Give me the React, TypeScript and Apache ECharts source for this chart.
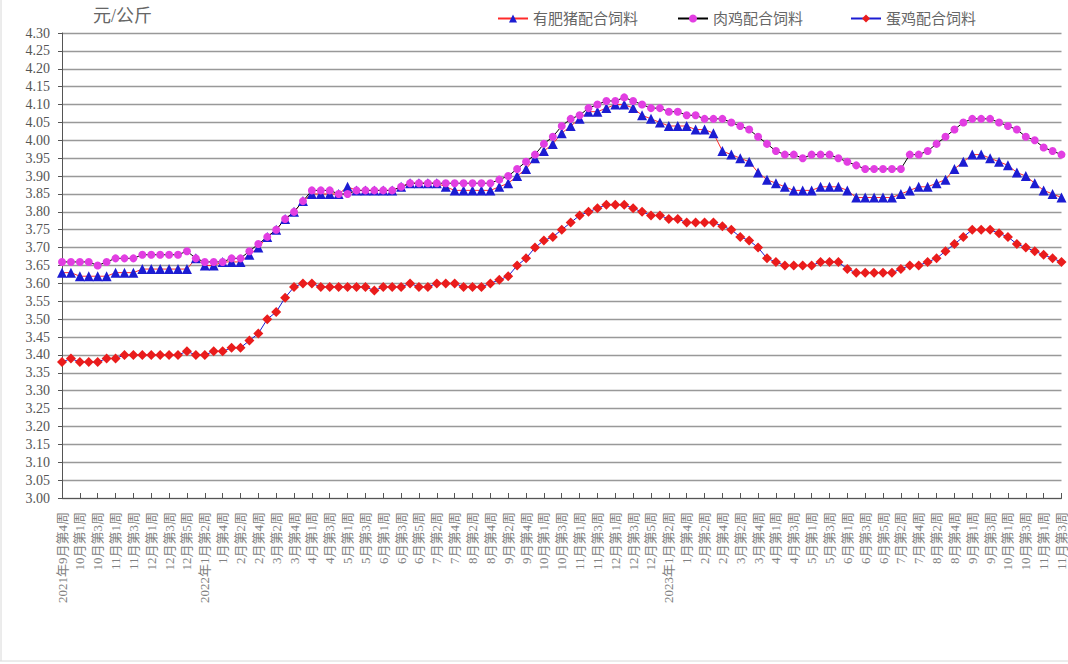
import React, { useEffect, useRef } from "react";
import * as echarts from "echarts";

// [year, month, first week, last week] of the weekly observations
const monthWeeks: [number, number, number, number][] = [
  [2021, 9, 4, 5], [2021, 10, 1, 4], [2021, 11, 1, 4], [2021, 12, 1, 5],
  [2022, 1, 1, 4], [2022, 2, 1, 4], [2022, 3, 1, 5], [2022, 4, 1, 4], [2022, 5, 1, 4], [2022, 6, 1, 5],
  [2022, 7, 1, 4], [2022, 8, 1, 4], [2022, 9, 1, 5], [2022, 10, 1, 4], [2022, 11, 1, 4], [2022, 12, 1, 5],
  [2023, 1, 1, 4], [2023, 2, 1, 4], [2023, 3, 1, 5], [2023, 4, 1, 4], [2023, 5, 1, 4], [2023, 6, 1, 5],
  [2023, 7, 1, 4], [2023, 8, 1, 5], [2023, 9, 1, 4], [2023, 10, 1, 4], [2023, 11, 1, 3],
];

const categories: string[] = [];
const catYears: number[] = [];
const shortLabels: string[] = [];
monthWeeks.forEach(([y, m, a, b]) => {
  for (let w = a; w <= b; w++) {
    categories.push(`${y}年${m}月第${w}周`);
    shortLabels.push(`${m}月第${w}周`);
    catYears.push(y);
  }
});

const pigFeed = [
  3.63, 3.63, 3.62, 3.62, 3.62, 3.62, 3.63, 3.63, 3.63, 3.64,
  3.64, 3.64, 3.64, 3.64, 3.64, 3.67, 3.65, 3.65, 3.66, 3.66,
  3.66, 3.68, 3.70, 3.73, 3.75, 3.78, 3.80, 3.83, 3.85, 3.85,
  3.85, 3.85, 3.87, 3.86, 3.86, 3.86, 3.86, 3.86, 3.87, 3.88,
  3.88, 3.88, 3.88, 3.87, 3.86, 3.86, 3.86, 3.86, 3.86, 3.87,
  3.88, 3.90, 3.92, 3.95, 3.97, 3.99, 4.02, 4.04, 4.06, 4.08,
  4.08, 4.09, 4.10, 4.10, 4.09, 4.07, 4.06, 4.05, 4.04, 4.04,
  4.04, 4.03, 4.03, 4.02, 3.97, 3.96, 3.95, 3.94, 3.91, 3.89,
  3.88, 3.87, 3.86, 3.86, 3.86, 3.87, 3.87, 3.87, 3.86, 3.84,
  3.84, 3.84, 3.84, 3.84, 3.85, 3.86, 3.87, 3.87, 3.88, 3.89,
  3.92, 3.94, 3.96, 3.96, 3.95, 3.94, 3.93, 3.91, 3.90, 3.88,
  3.86, 3.85, 3.84,
];

const broilerFeed = [
  3.66, 3.66, 3.66, 3.66, 3.65, 3.66, 3.67, 3.67, 3.67, 3.68,
  3.68, 3.68, 3.68, 3.68, 3.69, 3.67, 3.66, 3.66, 3.66, 3.67,
  3.67, 3.69, 3.71, 3.73, 3.75, 3.78, 3.80, 3.83, 3.86, 3.86,
  3.86, 3.85, 3.85, 3.86, 3.86, 3.86, 3.86, 3.86, 3.87, 3.88,
  3.88, 3.88, 3.88, 3.88, 3.88, 3.88, 3.88, 3.88, 3.88, 3.89,
  3.90, 3.92, 3.94, 3.96, 3.99, 4.01, 4.04, 4.06, 4.07, 4.09,
  4.10, 4.11, 4.11, 4.12, 4.11, 4.10, 4.09, 4.09, 4.08, 4.08,
  4.07, 4.07, 4.06, 4.06, 4.06, 4.05, 4.04, 4.03, 4.01, 3.99,
  3.97, 3.96, 3.96, 3.95, 3.96, 3.96, 3.96, 3.95, 3.94, 3.93,
  3.92, 3.92, 3.92, 3.92, 3.92, 3.96, 3.96, 3.97, 3.99, 4.01,
  4.03, 4.05, 4.06, 4.06, 4.06, 4.05, 4.04, 4.03, 4.01, 4.00,
  3.98, 3.97, 3.96,
];

const layerFeed = [
  3.38, 3.39, 3.38, 3.38, 3.38, 3.39, 3.39, 3.40, 3.40, 3.40,
  3.40, 3.40, 3.40, 3.40, 3.41, 3.40, 3.40, 3.41, 3.41, 3.42,
  3.42, 3.44, 3.46, 3.50, 3.52, 3.56, 3.59, 3.60, 3.60, 3.59,
  3.59, 3.59, 3.59, 3.59, 3.59, 3.58, 3.59, 3.59, 3.59, 3.60,
  3.59, 3.59, 3.60, 3.60, 3.60, 3.59, 3.59, 3.59, 3.60, 3.61,
  3.62, 3.65, 3.67, 3.70, 3.72, 3.73, 3.75, 3.77, 3.79, 3.80,
  3.81, 3.82, 3.82, 3.82, 3.81, 3.80, 3.79, 3.79, 3.78, 3.78,
  3.77, 3.77, 3.77, 3.77, 3.76, 3.75, 3.73, 3.72, 3.70, 3.67,
  3.66, 3.65, 3.65, 3.65, 3.65, 3.66, 3.66, 3.66, 3.64, 3.63,
  3.63, 3.63, 3.63, 3.63, 3.64, 3.65, 3.65, 3.66, 3.67, 3.69,
  3.71, 3.73, 3.75, 3.75, 3.75, 3.74, 3.73, 3.71, 3.70, 3.69,
  3.68, 3.67, 3.66,
];

const seriesNames = ["有肥猪配合饲料", "肉鸡配合饲料", "蛋鸡配合饲料"];
const unitLabel = "元/公斤";

const FONT = "'Liberation Serif', 'Noto Sans CJK SC', serif";
const legendLefts = [492, 672, 845];

export default function App() {
  const ref = useRef<HTMLDivElement>(null);

  useEffect(() => {
    if (!ref.current) return;
    const chart = echarts.init(ref.current, undefined, { renderer: "svg" });
    const option: any = {
      animation: false,
      backgroundColor: "#ffffff",
      textStyle: { fontFamily: FONT },
      legend: seriesNames.map((name, i) => ({
        top: 6,
        left: legendLefts[i],
        itemWidth: 30,
        itemHeight: 10,
        textStyle: { fontSize: 15, color: "#666", fontFamily: FONT },
        data: [name],
      })),
      grid: { left: 62, right: 2, top: 33, bottom: 166, containLabel: false },
      xAxis: {
        type: "category",
        data: categories,
        boundaryGap: false,
        axisLine: { lineStyle: { color: "#555", width: 1 } },
        axisTick: { inside: true, interval: 1, length: 5, lineStyle: { color: "#555" } },
        axisLabel: {
          interval: 1,
          rotate: 90,
          margin: 14,
          fontSize: 13,
          color: "#808080",
          fontFamily: FONT,
          formatter: (_v: string, i: number) =>
            i === 0 || catYears[i] !== catYears[i - 2] ? categories[i] : shortLabels[i],
        },
        splitLine: { show: false },
      },
      yAxis: {
        type: "value",
        min: 3,
        max: 4.3,
        interval: 0.05,
        axisLine: { show: true, lineStyle: { color: "#555" } },
        axisTick: { show: true, length: 4, lineStyle: { color: "#555" } },
        axisLabel: {
          formatter: (v: number) => v.toFixed(2),
          fontSize: 14,
          color: "#555",
          margin: 12,
          fontFamily: FONT,
        },
        splitLine: { lineStyle: { color: "#999999", width: 1.3 } },
      },
      graphic: [
        {
          type: "text",
          left: 93,
          top: 7,
          style: { text: unitLabel, fontSize: 18, fill: "#666", fontFamily: FONT },
        },
        { type: "line", shape: { x1: 1, y1: 0, x2: 1, y2: 661 }, style: { stroke: "#d8d8d8", lineWidth: 1 } },
        { type: "line", shape: { x1: 0, y1: 661, x2: 1068, y2: 661 }, style: { stroke: "#d8d8d8", lineWidth: 1 } },
      ],
      series: [
        {
          name: seriesNames[0],
          type: "line",
          data: pigFeed,
          symbol: "triangle",
          symbolSize: 10,
          showAllSymbol: true,
          itemStyle: { color: "#1c1cd2" },
          lineStyle: { color: "#ff2a2a", width: 1 },
        },
        {
          name: seriesNames[1],
          type: "line",
          data: broilerFeed,
          symbol: "circle",
          symbolSize: 8,
          showAllSymbol: true,
          itemStyle: { color: "#e23ee2" },
          lineStyle: { color: "#000000", width: 1 },
        },
        {
          name: seriesNames[2],
          type: "line",
          data: layerFeed,
          symbol: "diamond",
          symbolSize: 10,
          showAllSymbol: true,
          itemStyle: { color: "#ea1c1c" },
          lineStyle: { color: "#1c1cd2", width: 1 },
        },
      ],
    };
    chart.setOption(option);
    return () => chart.dispose();
  }, []);

  return (
    <div
      ref={ref}
      style={{ position: "fixed", left: 0, top: 0, width: 1068, height: 664, background: "#fff" }}
    />
  );
}
